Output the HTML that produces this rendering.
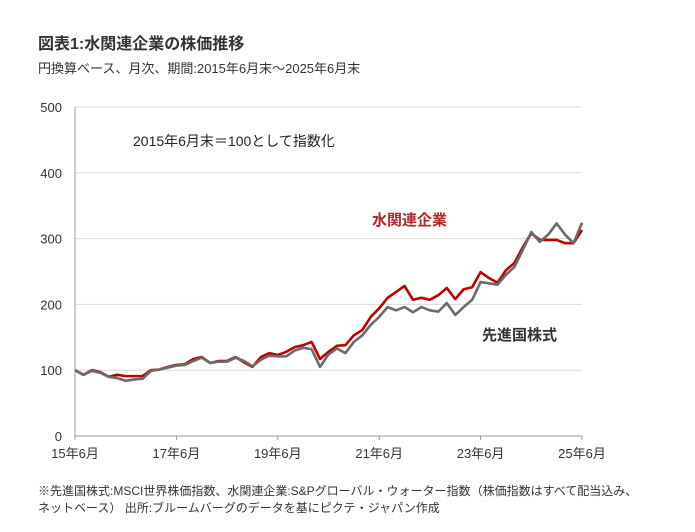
<!DOCTYPE html>
<html><head><meta charset="utf-8"><style>
body{margin:0;background:#fff;font-family:"Liberation Sans","Noto Sans CJK JP",sans-serif;}
svg text{font-family:"Liberation Sans","Noto Sans CJK JP",sans-serif;}
</style></head><body>
<svg id="c" width="695" height="527" xmlns="http://www.w3.org/2000/svg">
<text x="38" y="49" font-size="16" font-weight="bold" fill="#333">図表1:水関連企業の株価推移</text>
<text x="38" y="73" font-size="13" fill="#333">円換算ベース、月次、期間:2015年6月末～2025年6月末</text>
<g id="grid"></g>
<g id="series"></g>
<text x="133" y="146" font-size="14" fill="#222">2015年6月末＝100として指数化</text>
<text x="372" y="225" font-size="15" font-weight="bold" fill="#b0282e">水関連企業</text>
<text x="482" y="340" font-size="15" font-weight="bold" fill="#333">先進国株式</text>
<text x="38" y="495" font-size="12" fill="#333">※先進国株式:MSCI世界株価指数、水関連企業:S&amp;Pグローバル・ウォーター指数（株価指数はすべて配当込み、</text>
<text x="38" y="512" font-size="12" fill="#333">ネットベース） 出所:ブルームバーグのデータを基にピクテ・ジャパン作成</text>
</svg>
<script>
const yTicks=[0,100,200,300,400,500];
const xLabels=["15年6月","17年6月","19年6月","21年6月","23年6月","25年6月"];
const water=[100,93,100,97,90,93,91,91,91,100,101,105,108,109,117,120,111,114,114,120,112,105,120,126,123,128,135,138,143,117,128,137,138,153,161,181,194,210,219,228,207,210,207,214,225,208,223,226,249,240,233,252,263,287,308,298,298,298,293,293,313];
const world=[100,93,99,96,90,88,84,86,87,99,101,104,107,108,114,119,111,113,113,119,114,106,116,122,121,121,130,134,132,105,124,133,126,143,153,169,181,196,191,196,188,196,191,189,202,184,196,207,234,232,230,245,257,283,310,295,306,323,306,293,324];
const svg=document.getElementById('c');
const NS='http://www.w3.org/2000/svg';
const X0=75,X1=582,Y0=436,Y1=107;
const xs=i=>X0+(X1-X0)*i/(water.length-1);
const ys=v=>Y0-(Y0-Y1)*v/500;
const grid=document.getElementById('grid');
yTicks.forEach(v=>{
  const l=document.createElementNS(NS,'line');
  
  
  l.setAttribute('x1',X0);l.setAttribute('x2',X1);l.setAttribute('y1',ys(v));l.setAttribute('y2',ys(v));
  l.setAttribute('stroke',v===0?'#999':'#d9d9d9');l.setAttribute('stroke-width','1');
  grid.appendChild(l);
  const t=document.createElementNS(NS,'text');
  
  
  t.setAttribute('x',62);t.setAttribute('y',ys(v)+5);t.setAttribute('text-anchor','end');
  t.setAttribute('font-size','13');t.setAttribute('fill','#333');t.textContent=v;
  grid.appendChild(t);
});
const ax=document.createElementNS(NS,'line');


ax.setAttribute('x1',X0);ax.setAttribute('x2',X0);ax.setAttribute('y1',Y1);ax.setAttribute('y2',Y0);
ax.setAttribute('stroke','#999');grid.appendChild(ax);
xLabels.forEach((s,k)=>{
  const x=X0+(X1-X0)*k/(xLabels.length-1);
  const tk=document.createElementNS(NS,'line');
  
  
  tk.setAttribute('x1',x);tk.setAttribute('x2',x);tk.setAttribute('y1',Y0);tk.setAttribute('y2',Y0+4);
  tk.setAttribute('stroke','#999');grid.appendChild(tk);
  const t=document.createElementNS(NS,'text');
  
  
  t.setAttribute('x',x);t.setAttribute('y',Y0+22);t.setAttribute('text-anchor','middle');
  t.setAttribute('font-size','13');t.setAttribute('fill','#333');t.textContent=s;
  grid.appendChild(t);
});
const ser=document.getElementById('series');
function line(d,col,name){
  const p=document.createElementNS(NS,'polyline');
  
  
  p.setAttribute('points',d.map((v,i)=>xs(i)+','+ys(v)).join(' '));
  p.setAttribute('fill','none');p.setAttribute('stroke',col);p.setAttribute('stroke-width','2.6');
  p.setAttribute('stroke-linejoin','round');
  ser.appendChild(p);
}
line(water,'#c00000','water-line');
line(world,'#6b6b6b','developed-line');
</script>
</body></html>
